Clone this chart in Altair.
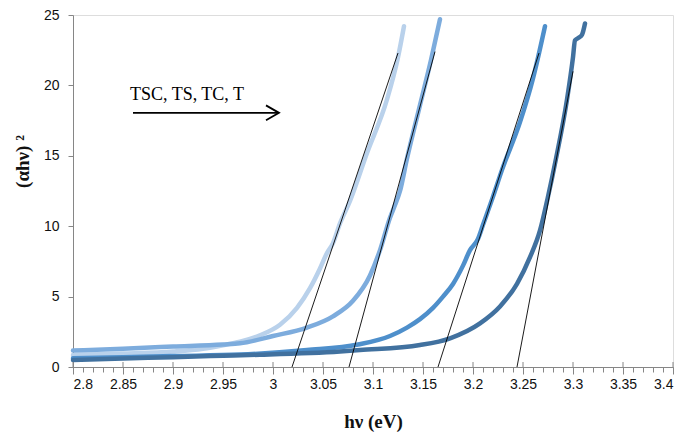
import altair as alt
import pandas as pd

# ---- data ----
tsc_x = [2.80, 2.85, 2.90, 2.93, 2.95, 2.967, 2.987, 3.007, 3.024, 3.037, 3.047, 3.054, 3.06, 3.067, 3.077, 3.094, 3.114, 3.125, 3.131]
tsc_y = [0.85, 0.95, 1.1, 1.3, 1.55, 1.8, 2.25, 3.0, 4.2, 5.6, 7.0, 8.1, 8.8, 10.2, 11.8, 15.2, 19.0, 22.0, 24.2]

ts_x = [2.80, 2.85, 2.90, 2.95, 2.967, 3.0, 3.034, 3.06, 3.08, 3.097, 3.107, 3.117, 3.122, 3.127, 3.134, 3.147, 3.158, 3.167]
ts_y = [1.17, 1.3, 1.45, 1.6, 1.68, 2.2, 2.8, 3.6, 4.7, 6.5, 8.3, 10.6, 11.5, 12.5, 14.8, 18.6, 21.8, 24.7]

tc_x = [2.80, 2.85, 2.90, 2.967, 3.034, 3.085, 3.117, 3.134, 3.147, 3.16, 3.17, 3.18, 3.19, 3.197, 3.205, 3.21, 3.22, 3.229, 3.247, 3.26, 3.272]
tc_y = [0.62, 0.7, 0.78, 0.88, 1.2, 1.6, 2.2, 2.8, 3.4, 4.2, 5.0, 5.9, 7.2, 8.3, 9.1, 10.1, 12.1, 14.0, 17.4, 20.5, 24.2]

t_x = [2.80, 2.85, 2.90, 2.95, 2.987, 3.067, 3.087, 3.147, 3.177, 3.207, 3.227, 3.244, 3.257, 3.267, 3.275, 3.283, 3.294, 3.300, 3.302, 3.306, 3.309, 3.312]
t_y = [0.5, 0.6, 0.7, 0.8, 0.87, 1.1, 1.2, 1.56, 2.04, 3.1, 4.3, 5.9, 7.8, 9.7, 12.1, 14.8, 19.0, 22.0, 23.2, 23.4, 23.6, 24.4]

series_names = ["TSC", "TS", "TC", "T"]
series_colors = ["#B9D1EB", "#7DACDD", "#4E8FCB", "#41719F"]

# tangent (extrapolation) lines: two end points each
tan_x1 = [3.019, 3.076, 3.165, 3.244]
tan_y1 = [0, 0, 0, 0]
tan_x2 = [3.125, 3.162, 3.266, 3.300]
tan_y2 = [22.3, 22.4, 22.3, 21.0]

x_major = [2.8, 2.85, 2.9, 2.95, 3.0, 3.05, 3.1, 3.15, 3.2, 3.25, 3.3, 3.35, 3.4]
x_minor = [round(2.8 + i * 0.01, 2) for i in range(61)]
y_ticks = [0, 5, 10, 15, 20, 25]

annot_text = "TSC, TS, TC, T"
annot_x, annot_y = 2.857, 18.95
arrow_x1, arrow_x2, arrow_y = 2.860, 3.006, 18.05
head_x = [2.993, 3.006, 2.993]
head_y = [18.58, 18.05, 17.52]

# ---- tables ----
rows = []
for name, xs_, ys_ in zip(series_names, [tsc_x, ts_x, tc_x, t_x], [tsc_y, ts_y, tc_y, t_y]):
    for i, (a, b) in enumerate(zip(xs_, ys_)):
        rows.append({"s": name, "x": a, "y": b, "o": i})
curves = pd.DataFrame(rows)

tan_rows = []
for i in range(4):
    tan_rows.append({"k": i, "x": tan_x1[i], "y": tan_y1[i], "o": 0})
    tan_rows.append({"k": i, "x": tan_x2[i], "y": tan_y2[i], "o": 1})
tangents = pd.DataFrame(tan_rows)

xs = alt.Scale(domain=[2.8, 3.4], nice=False, zero=False)
ys = alt.Scale(domain=[0, 25], nice=False)

label_font = "Liberation Sans"
serif = "Liberation Serif"
axis_grey = "#868686"

x_axis = alt.Axis(values=x_major, format="~g", title="hν (eV)", grid=False, orient="bottom",
                  tickSize=7, tickColor=axis_grey, domainColor=axis_grey,
                  labelFont=label_font, labelFontSize=14, labelColor="#111111", labelPadding=3,
                  titleFont=serif, titleFontSize=19, titleFontWeight="bold", titleColor="#111111",
                  titleBaseline="alphabetic", titleY=60)
y_axis = alt.Axis(values=y_ticks, title="(αhν) ²", grid=False,
                  tickSize=5, tickColor=axis_grey, domainColor=axis_grey,
                  labelFont=label_font, labelFontSize=14, labelColor="#111111", labelPadding=9,
                  titleFont=serif, titleFontSize=19, titleFontWeight="bold", titleColor="#111111",
                  titleAngle=-90, titleAlign="center", titleBaseline="middle", titleX=-51, titleY=146)

lines = alt.Chart(curves).mark_line(strokeWidth=4.5, strokeCap="round", strokeJoin="round",
                                    interpolate="monotone").encode(
    x=alt.X("x:Q", scale=xs, axis=x_axis),
    y=alt.Y("y:Q", scale=ys, axis=y_axis),
    color=alt.Color("s:N", scale=alt.Scale(domain=series_names, range=series_colors), legend=None),
    order="o:Q",
    detail="s:N",
)

tan = alt.Chart(tangents).mark_line(color="black", strokeWidth=0.9).encode(
    x=alt.X("x:Q", scale=xs, axis=None),
    y=alt.Y("y:Q", scale=ys, axis=None),
    detail="k:N",
    order="o:Q",
)

minor = alt.Chart(pd.DataFrame({"x": x_minor})).mark_tick(opacity=0).encode(
    x=alt.X("x:Q", scale=xs,
            axis=alt.Axis(values=x_minor, labels=False, domain=False, title=None, grid=False,
                          orient="bottom", tickSize=5, tickColor=axis_grey)),
)

major_up = alt.Chart(pd.DataFrame({"x": x_major})).mark_rule(color=axis_grey, strokeWidth=1).encode(
    x=alt.X("x:Q", scale=xs, axis=None),
    y=alt.value(347),
    y2=alt.value(352),
)

annot = alt.Chart(pd.DataFrame({"x": [annot_x], "y": [annot_y], "t": [annot_text]})).mark_text(
    font=serif, fontSize=18, align="left", baseline="alphabetic", color="black").encode(
    x=alt.X("x:Q", scale=xs, axis=None), y=alt.Y("y:Q", scale=ys, axis=None), text="t:N")

arrow_line = alt.Chart(pd.DataFrame({"x": [arrow_x1], "x2": [arrow_x2 - 0.001], "y": [arrow_y]})).mark_rule(
    color="black", strokeWidth=1.8).encode(
    x=alt.X("x:Q", scale=xs, axis=None), x2="x2:Q", y=alt.Y("y:Q", scale=ys, axis=None))

arrow_head = alt.Chart(pd.DataFrame({"x": head_x, "y": head_y, "o": [0, 1, 2]})).mark_line(
    color="black", strokeWidth=1.8, strokeJoin="miter").encode(
    x=alt.X("x:Q", scale=xs, axis=None), y=alt.Y("y:Q", scale=ys, axis=None), order="o:Q")

chart = alt.layer(lines, minor, major_up, tan, annot, arrow_line, arrow_head).resolve_axis(
    x="independent", y="independent"
).properties(
    width=600, height=352,
    autosize=alt.AutoSizeParams(type="none"),
    padding={"left": 73, "top": 15, "right": 13, "bottom": 68},
).configure_view(stroke=None).configure(background="white")

chart.save("out.html", embed_options={"renderer": "svg", "actions": False})
